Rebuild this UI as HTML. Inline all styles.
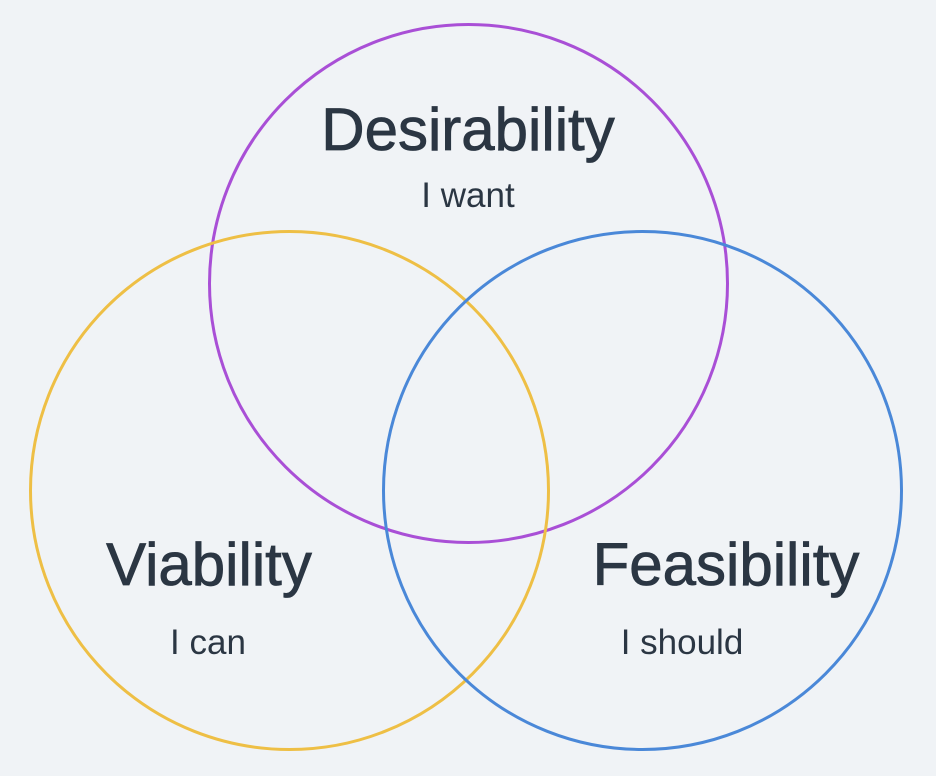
<!DOCTYPE html>
<html><head><style>
html,body{margin:0;padding:0;background:#f0f3f6;}
svg{display:block}
text{font-family:"Liberation Sans",sans-serif;fill:#2b3643;text-anchor:middle;}
.t{font-size:60px;stroke:#2b3643;stroke-width:0.8px}
.s{font-size:35px}
</style></head><body>
<svg width="936" height="776" viewBox="0 0 936 776">
<rect width="936" height="776" fill="#f0f3f6"/>
<circle cx="468.5" cy="283.5" r="259" fill="none" stroke="#a94fd6" stroke-width="3"/>
<circle cx="289.5" cy="490.5" r="259" fill="none" stroke="#eebf45" stroke-width="3"/>
<circle cx="642.5" cy="490.5" r="259" fill="none" stroke="#4a88d8" stroke-width="3"/>
<text class="t" x="468" y="150">Desirability</text>
<text class="s" x="468" y="207">I want</text>
<text class="t" x="209" y="585">Viability</text>
<text class="s" x="208" y="654">I can</text>
<text class="t" x="726" y="585">Feasibility</text>
<text class="s" x="682" y="654">I should</text>
</svg>
</body></html>
